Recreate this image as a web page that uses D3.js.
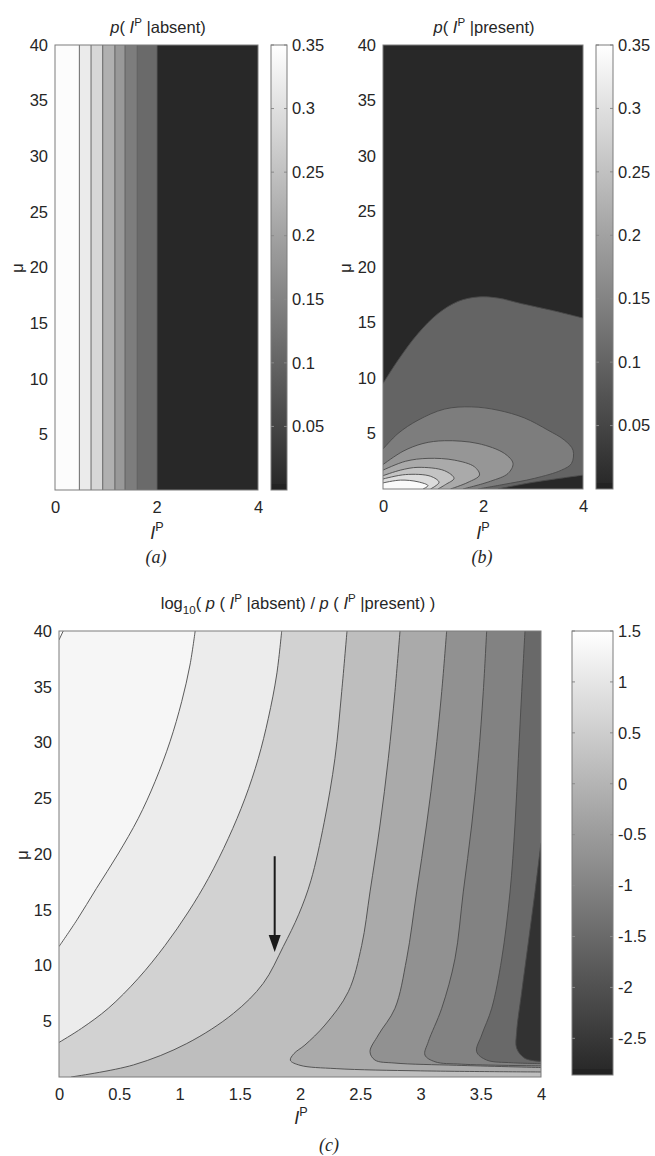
<!DOCTYPE html>
<html><head><meta charset="utf-8">
<script src="https://cdn.jsdelivr.net/npm/d3@7"></script>
<style>
html,body{margin:0;padding:0;background:#fff;}
svg{display:block;}
</style></head><body>
<svg id="chart" width="655" height="1156"></svg>
<script>
// ---------------- data ----------------
const xTicksTop = [0, 2, 4];
const yTicks = [5, 10, 15, 20, 25, 30, 35, 40];
const xTicksBottom = [0, 0.5, 1, 1.5, 2, 2.5, 3, 3.5, 4];
const xTickLabelsBottom = ["0", "0.5", "1", "1.5", "2", "2.5", "3", "3.5", "4"];
const probTicks = [0.05, 0.1, 0.15, 0.2, 0.25, 0.3, 0.35];
const probTickLabels = ["0.05", "0.1", "0.15", "0.2", "0.25", "0.3", "0.35"];
const ratioTicks = [-2.5, -2, -1.5, -1, -0.5, 0, 0.5, 1, 1.5];
const ratioTickLabels = ["-2.5", "-2", "-1.5", "-1", "-0.5", "0", "0.5", "1", "1.5"];

// (a) p(I^P | absent): vertical contour edges (I^P) and band values (left -> right)
const absentEdges = [0.48, 0.71, 0.94, 1.18, 1.38, 1.62, 2.01];
const absentBandValues = [0.345, 0.318, 0.285, 0.222, 0.185, 0.14, 0.11, 0.004];

// (b) p(I^P | present): contour lines [I^P, mu], outer -> inner (each a list of pieces)
const presentContours = [
  [[[0,9.5],[0.3,11.6],[0.7,14.0],[1.1,15.8],[1.5,16.9],[1.9,17.3],[2.3,17.2],[2.77,16.7],[3.37,16.1],[4,15.4]],
   [[4,1.25],[3.0,0.6],[2.3,0]]],
  [[[0,3.6],[0.3,5.0],[0.7,6.2],[1.23,7.2],[1.77,7.4],[2.3,7.1],[2.83,6.4],[3.3,5.3],[3.63,4.4],[3.8,3.5],[3.77,2.3],[3.57,1.7],[3.03,0.96],[2.4,0.4],[1.9,0]]],
  [[[0,2.2],[0.4,3.4],[0.8,4.1],[1.23,4.35],[1.9,4.1],[2.43,3.2],[2.6,2.3],[2.5,1.4],[2.15,0.7],[1.6,0]]],
  [[[0,1.7],[0.45,2.5],[0.9,2.76],[1.43,2.6],[1.83,2.0],[1.93,1.26],[1.7,0.6],[1.35,0]]],
  [[[0,1.2],[0.35,1.7],[0.7,1.95],[1.23,1.65],[1.42,0.96],[1.25,0.4],[1.1,0]]],
  [[[0,0.9],[0.45,1.3],[0.95,1.15],[1.12,0.6],[0.95,0]]],
  [[[0,0.55],[0.35,0.8],[0.7,0.65],[0.9,0.3],[0.8,0]]]
];
// background first, then inside each contour
const presentBandValues = [0.004, 0.10, 0.14, 0.18, 0.213, 0.253, 0.294, 0.342];

// (c) log10 ratio: contour lines [I^P, mu], left -> right
const ratioContours = [
  [[[0.035,40],[0,39.2]]],
  [[[1.13,40],[1.087,36.95],[1.018,33.66],[0.921,30.07],[0.797,26.49],[0.658,23.2],[0.49,20.0],[0.31,16.9],[0.15,14.1],[0,11.7]]],
  [[[1.848,40],[1.806,36.05],[1.737,32.17],[1.654,28.58],[1.544,25.0],[1.405,21.4],[1.239,17.8],[1.073,14.8],[0.88,11.8],[0.658,8.85],[0.409,6.16],[0.188,4.37],[0,3.1]]],
  [[[2.39,40],[2.346,34.56],[2.29,28.58],[2.2,22.8],[2.09,17.6],[1.99,14.6],[1.861,11.7],[1.695,8.4],[1.447,5.7],[1.06,3.0],[0.617,1.08],[0.1,0]]],
  [[[2.83,40],[2.788,34.56],[2.733,28.58],[2.664,22.6],[2.581,16.6],[2.512,11.8],[2.401,7.65],[2.207,4.66],[2.041,2.87],[1.95,2.1],[1.92,1.5],[2.0,1.05],[2.3,0.75],[3.0,0.55],[4,0.45]]],
  [[[3.217,40],[3.176,34.56],[3.12,28.58],[3.05,22.6],[2.968,16.6],[2.885,10.6],[2.788,6.16],[2.65,3.77],[2.581,2.27],[2.622,1.52],[2.788,1.25],[3.3,1.05],[4,0.85]]],
  [[[3.549,40],[3.521,34.56],[3.48,28.58],[3.425,22.6],[3.355,16.6],[3.286,10.6],[3.176,6.16],[3.065,3.17],[3.037,1.97],[3.12,1.37],[3.342,1.15],[4,1.0]]],
  [[[3.867,40],[3.84,34.56],[3.812,28.58],[3.784,22.6],[3.743,16.6],[3.674,10.6],[3.591,6.16],[3.508,3.77],[3.466,2.27],[3.549,1.52],[3.757,1.28],[4,1.2]]],
  [[[4,21],[3.95,16.6],[3.895,12.1],[3.84,7.65],[3.798,4.06],[3.798,2.57],[3.867,1.67],[4,1.4]]]
];
// left of first contour, between contours, right of last contour
const ratioBandValues = [1.5, 1.32, 1.12, 0.6, 0.19, -0.21, -0.71, -1.01, -1.51, -2.62];
const arrowMark = {x: 1.79, from: 19.8, to: 11.2};

// ---------------- drawing ----------------
const FONT = '"Liberation Sans", Arial, Helvetica, sans-serif';
const SERIF = '"Liberation Serif", "Times New Roman", serif';
const INK = "#262626";
const FS = 16.5;
const svg = d3.select("#chart");
svg.append("rect").attr("width", 655).attr("height", 1156).attr("fill", "#fff");
const defs = svg.append("defs");

const probColor = d3.scaleLinear().domain([0, 0.35]).range(["#262626", "#ffffff"]).clamp(true);
const ratioColor = d3.scaleLinear().domain([-2.86, 1.5]).range(["#262626", "#ffffff"]).clamp(true);

const boxA = {l: 55, r: 258, t: 45, b: 490};
const boxB = {l: 383, r: 583, t: 45, b: 489};
const boxC = {l: 59, r: 541, t: 631, b: 1077};
const cbA = {l: 271, r: 287, t: 45, b: 490};
const cbB = {l: 596, r: 613, t: 45, b: 489};
const cbC = {l: 572, r: 613, t: 631, b: 1075};

function scales(box) {
  return {
    x: d3.scaleLinear().domain([0, 4]).range([box.l, box.r]),
    y: d3.scaleLinear().domain([0, 40]).range([box.b, box.t])
  };
}
const sA = scales(boxA), sB = scales(boxB), sC = scales(boxC);

let clipId = 0;
function clipFor(box) {
  const id = "clip" + (clipId++);
  defs.append("clipPath").attr("id", id).append("rect")
    .attr("x", box.l).attr("y", box.t).attr("width", box.r - box.l).attr("height", box.b - box.t);
  return "url(#" + id + ")";
}

// perimeter parameter for closing a contour region along the plot border
function perimT(p) {
  const [v, m] = p, e = 1e-6;
  if (Math.abs(m - 40) < e) return v / 4;
  if (Math.abs(v - 4) < e) return 1 + (40 - m) / 40;
  if (Math.abs(m) < e) return 2 + (4 - v) / 4;
  return 3 + m / 40;
}
const corners = [[0, 40], [4, 40], [4, 0], [0, 0]];
function curveOf(s) {
  return d3.line().x(d => s.x(d[0])).y(d => s.y(d[1])).curve(d3.curveCatmullRom.alpha(0.5));
}
function regionPath(pieces, s) {
  const line = curveOf(s);
  let d = pieces.map((p, i) => i === 0 ? line(p) : line(p).replace(/^M/, "L")).join("");
  const last = pieces[pieces.length - 1];
  const te = perimT(last[last.length - 1]);
  let ts = perimT(pieces[0][0]);
  while (ts <= te) ts += 4;
  for (let k = Math.ceil(te + 1e-9); k < ts; k++) {
    const c = corners[k % 4];
    d += "L" + s.x(c[0]) + "," + s.y(c[1]);
  }
  return d + "Z";
}

function richText(parent, x, y, parts, size, anchor) {
  const t = parent.append("text").attr("x", x).attr("y", y)
    .attr("font-family", FONT).attr("font-size", size).attr("fill", INK)
    .attr("text-anchor", anchor || "middle");
  let shift = 0;
  parts.forEach(p => {
    const ts = t.append("tspan").text(p.t);
    let target = 0;
    if (p.sup) target = -0.42 * size;
    if (p.sub) target = 0.32 * size;
    if (target !== shift) { ts.attr("dy", target - shift); shift = target; }
    if (p.sup || p.sub) ts.attr("font-size", size * 0.7);
    if (p.i) ts.attr("font-style", "italic");
  });
  return t;
}

function axes(s, box, xTicks, xLabels) {
  const gx = svg.append("g").attr("transform", `translate(0,${box.b})`)
    .call(d3.axisBottom(s.x).tickValues(xTicks).tickFormat((d, i) => xLabels ? xLabels[i] : d).tickSize(0).tickPadding(11));
  const gy = svg.append("g").attr("transform", `translate(${box.l},0)`)
    .call(d3.axisLeft(s.y).tickValues(yTicks).tickSize(0).tickPadding(7));
  [gx, gy].forEach(g => {
    g.select(".domain").remove();
    g.attr("font-family", FONT).attr("font-size", FS);
    g.selectAll("text").attr("fill", INK);
  });
}

function frame(box) {
  svg.append("rect").attr("x", box.l).attr("y", box.t)
    .attr("width", box.r - box.l).attr("height", box.b - box.t)
    .attr("fill", "none").attr("stroke", "#7c7c7c").attr("stroke-width", 1);
}

function colorbar(box, color, domain, ticks, labels, gid) {
  const grad = defs.append("linearGradient").attr("id", gid)
    .attr("x1", 0).attr("y1", 1).attr("x2", 0).attr("y2", 0);
  d3.range(0, 1.0001, 0.05).forEach(f => {
    grad.append("stop").attr("offset", f).attr("stop-color", color(domain[0] + f * (domain[1] - domain[0])));
  });
  const sc = d3.scaleLinear().domain(domain).range([box.b, box.t]);
  svg.append("rect").attr("x", box.l).attr("y", box.t)
    .attr("width", box.r - box.l).attr("height", box.b - box.t)
    .attr("fill", `url(#${gid})`);
  svg.append("rect").attr("x", box.l).attr("y", box.b - 6)
    .attr("width", box.r - box.l).attr("height", 6).attr("fill", "#1f1f1f").attr("opacity", 0.6);
  const tk = svg.append("g");
  ticks.forEach(v => {
    tk.append("line").attr("x1", box.l).attr("x2", box.l + 3).attr("y1", sc(v)).attr("y2", sc(v))
      .attr("stroke", "#8a8a8a");
    tk.append("line").attr("x1", box.r - 3).attr("x2", box.r).attr("y1", sc(v)).attr("y2", sc(v))
      .attr("stroke", "#8a8a8a");
  });
  const g = svg.append("g").attr("transform", `translate(${box.r},0)`)
    .call(d3.axisRight(sc).tickValues(ticks).tickFormat((d, i) => labels[i]).tickSize(0).tickPadding(5));
  g.select(".domain").remove();
  g.attr("font-family", FONT).attr("font-size", FS);
  g.selectAll("text").attr("fill", INK);
  frame(box);
}

function muLabel(x, y) {
  svg.append("text").attr("transform", `translate(${x},${y}) rotate(-90)`)
    .attr("text-anchor", "middle").attr("dy", "0.35em")
    .attr("font-family", FONT).attr("font-size", 17).attr("fill", INK).text("μ");
}
function ipLabel(x, y) {
  richText(svg, x, y, [{t: "I", i: true}, {t: "P", sup: true}], 18);
}
function panelTag(x, y, txt) {
  svg.append("text").attr("x", x).attr("y", y).attr("text-anchor", "middle")
    .attr("font-family", SERIF).attr("font-style", "italic").attr("font-size", 18)
    .attr("fill", INK).text(txt);
}
function contourLayer(g, contours, s) {
  contours.forEach(c => c.forEach(piece => {
    g.append("path").attr("d", curveOf(s)(piece)).attr("fill", "none")
      .attr("stroke", "#4a4a4a").attr("stroke-width", 0.9);
  }));
}

// ---- panel (a) ----
{
  const g = svg.append("g").attr("clip-path", clipFor(boxA));
  const edges = [0].concat(absentEdges, [4]);
  g.selectAll("rect.band").data(absentBandValues).join("rect").attr("class", "band")
    .attr("x", (d, i) => sA.x(edges[i])).attr("y", boxA.t)
    .attr("width", (d, i) => sA.x(edges[i + 1]) - sA.x(edges[i]) + 0.5)
    .attr("height", boxA.b - boxA.t).attr("fill", d => probColor(d));
  g.selectAll("line.edge").data(absentEdges).join("line").attr("class", "edge")
    .attr("x1", d => sA.x(d)).attr("x2", d => sA.x(d)).attr("y1", boxA.t).attr("y2", boxA.b)
    .attr("stroke", "#5a5a5a").attr("stroke-width", 0.9);
  frame(boxA);
  axes(sA, boxA, xTicksTop);
  colorbar(cbA, probColor, [0, 0.35], probTicks, probTickLabels, "gA");
  richText(svg, 158, 33, [{t: "p", i: true}, {t: "( "}, {t: "I", i: true}, {t: "P", sup: true}, {t: " |absent)"}], FS);
  muLabel(17, 268);
  ipLabel(157, 539);
  panelTag(156, 563, "(a)");
}

// ---- panel (b) ----
{
  const g = svg.append("g").attr("clip-path", clipFor(boxB));
  g.append("rect").attr("x", boxB.l).attr("y", boxB.t).attr("width", boxB.r - boxB.l)
    .attr("height", boxB.b - boxB.t).attr("fill", probColor(presentBandValues[0]));
  presentContours.forEach((c, k) => {
    g.append("path").attr("d", regionPath(c, sB)).attr("fill", probColor(presentBandValues[k + 1]));
  });
  contourLayer(g, presentContours, sB);
  frame(boxB);
  axes(sB, boxB, xTicksTop);
  colorbar(cbB, probColor, [0, 0.35], probTicks, probTickLabels, "gB");
  richText(svg, 484, 33, [{t: "p", i: true}, {t: "( "}, {t: "I", i: true}, {t: "P", sup: true}, {t: " |present)"}], FS);
  muLabel(345, 268);
  ipLabel(483, 539);
  panelTag(482, 563, "(b)");
}

// ---- panel (c) ----
{
  const g = svg.append("g").attr("clip-path", clipFor(boxC));
  const n = ratioContours.length;
  g.append("rect").attr("x", boxC.l).attr("y", boxC.t).attr("width", boxC.r - boxC.l)
    .attr("height", boxC.b - boxC.t).attr("fill", ratioColor(ratioBandValues[n]));
  for (let k = n - 1; k >= 0; k--) {
    g.append("path").attr("d", regionPath(ratioContours[k], sC)).attr("fill", ratioColor(ratioBandValues[k]));
  }
  contourLayer(g, ratioContours, sC);
  // arrow annotation
  const ax = sC.x(arrowMark.x), y1 = sC.y(arrowMark.from), y2 = sC.y(arrowMark.to);
  svg.append("line").attr("x1", ax).attr("x2", ax).attr("y1", y1).attr("y2", y2 - 12)
    .attr("stroke", "#1a1a1a").attr("stroke-width", 2);
  svg.append("path").attr("d", `M${ax - 6},${y2 - 17}L${ax + 6},${y2 - 17}L${ax},${y2}Z`).attr("fill", "#1a1a1a");
  frame(boxC);
  axes(sC, boxC, xTicksBottom, xTickLabelsBottom);
  colorbar(cbC, ratioColor, [-2.86, 1.5], ratioTicks, ratioTickLabels, "gC");
  richText(svg, 298, 609, [
    {t: "log"}, {t: "10", sub: true}, {t: "(  "}, {t: "p", i: true}, {t: " ( "}, {t: "I", i: true}, {t: "P", sup: true},
    {t: " |absent) / "}, {t: "p", i: true}, {t: " ( "}, {t: "I", i: true}, {t: "P", sup: true}, {t: " |present) )"}
  ], FS);
  muLabel(22, 855);
  ipLabel(301, 1124);
  panelTag(329, 1151, "(c)");
}
</script>
</body></html>
